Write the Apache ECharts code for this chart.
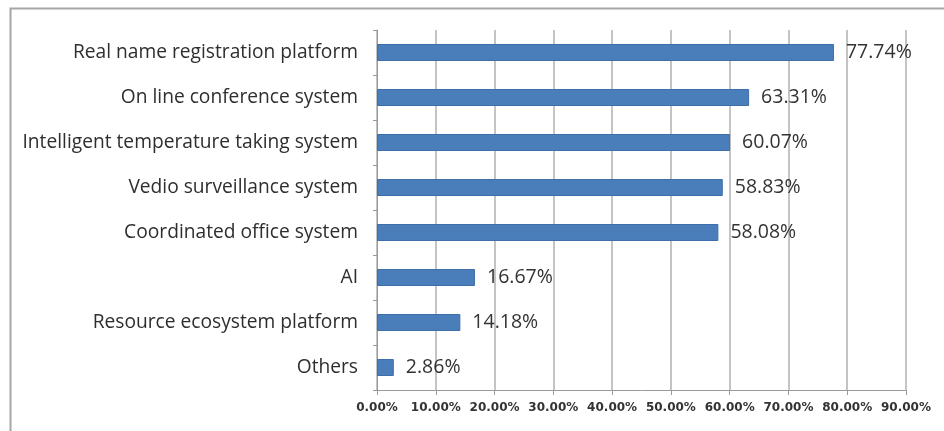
<!DOCTYPE html>
<html>
<head>
<meta charset="utf-8">
<script src="https://cdn.jsdelivr.net/npm/echarts@6/dist/echarts.min.js"></script>
<style>
  html, body { margin: 0; padding: 0; background: #ffffff; }
  #chart { width: 944px; height: 431px; }
</style>
</head>
<body>
<div id="chart"></div>
<script>
// Categories listed bottom-to-top (category axis on y starts at the bottom)
const categories = [
  'Others',
  'Resource ecosystem platform',
  'AI',
  'Coordinated office system',
  'Vedio surveillance system',
  'Intelligent temperature taking system',
  'On line conference system',
  'Real name registration platform'
];
const shares = [2.86, 14.18, 16.67, 58.08, 58.83, 60.07, 63.31, 77.74];
const xTicks = [0, 10, 20, 30, 40, 50, 60, 70, 80, 90];

const chart = echarts.init(document.getElementById('chart'), null, { renderer: 'canvas' });

chart.setOption({
  backgroundColor: '#ffffff',
  animation: false,
  graphic: [{
    type: 'rect',
    shape: { x: 10.5, y: 8.5, width: 960, height: 440 },
    style: { fill: 'none', stroke: '#a6a6a6', lineWidth: 2 },
    silent: true
  }],
  grid: { left: 377, right: 38, top: 30, bottom: 41, containLabel: false },
  xAxis: {
    type: 'value',
    min: xTicks[0],
    max: xTicks[xTicks.length - 1],
    interval: 10,
    axisLine: { show: true, lineStyle: { color: '#9a9a9a', width: 1 } },
    axisTick: { show: true, length: 5, lineStyle: { color: '#9a9a9a' } },
    splitLine: { show: true, lineStyle: { color: '#b0b0b0', width: 1.5 } },
    axisLabel: {
      formatter: v => v.toFixed(2) + '%',
      fontFamily: 'DejaVu Sans, sans-serif',
      fontWeight: 'bold',
      fontSize: 12,
      color: '#333333',
      margin: 12
    }
  },
  yAxis: {
    type: 'category',
    data: categories,
    axisLine: { show: true, lineStyle: { color: '#9a9a9a', width: 1 } },
    axisTick: { show: true, length: 4, lineStyle: { color: '#9a9a9a' } },
    splitLine: { show: false },
    axisLabel: {
      fontFamily: 'Open Sans, Lato, sans-serif',
      fontSize: 19.2,
      color: '#2e2e2e',
      margin: 19
    }
  },
  series: [{
    type: 'bar',
    data: shares,
    barWidth: 17,
    itemStyle: { color: '#4a7ebb', borderColor: '#3f6fa8', borderWidth: 1 },
    label: {
      show: true,
      position: 'right',
      distance: 12,
      formatter: p => p.value.toFixed(2) + '%',
      fontFamily: 'Open Sans, Lato, sans-serif',
      fontSize: 19.5,
      color: '#333333'
    }
  }]
});
</script>
</body>
</html>
